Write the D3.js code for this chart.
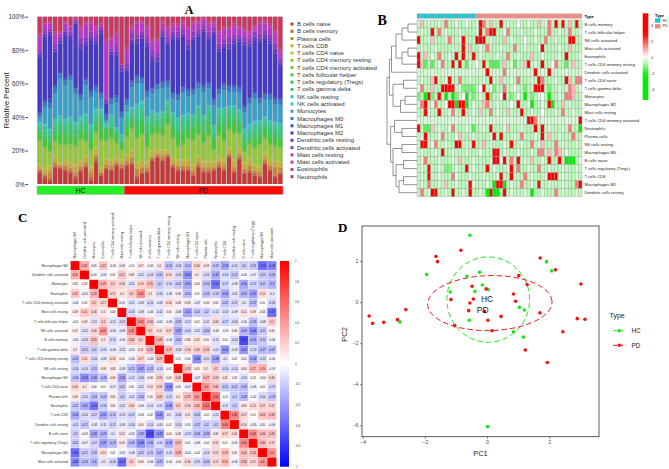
<!DOCTYPE html>
<html>
<head>
<meta charset="utf-8">
<script src="https://cdn.jsdelivr.net/npm/d3@7"></script>
<style>
  body { margin: 0; background: #fff; }
  svg { display: block; font-family: "Liberation Sans", Arial, sans-serif; }
  .letter { font-family: "Liberation Serif", "Times New Roman", serif; font-weight: bold; }
</style>
</head>
<body>
<svg id="fig" width="669" height="469"></svg>
<script>
// ---------- data ----------
const cellTypes = ["B cells naive", "B cells memory", "Plasma cells", "T cells CD8", "T cells CD4 naive",
  "T cells CD4 memory resting", "T cells CD4 memory activated", "T cells follicular helper",
  "T cells regulatory (Tregs)", "T cells gamma delta", "NK cells resting", "NK cells activated",
  "Monocytes", "Macrophages M0", "Macrophages M1", "Macrophages M2", "Dendritic cells resting",
  "Dendritic cells activated", "Mast cells resting", "Mast cells activated", "Eosinophils", "Neutrophils"];
const groupNames = ["HC", "PD"];
const groupSizes = [17, 31];
const percentTicks = [0, 0.2, 0.4, 0.6, 0.8, 1];

// panel A: one row per sample, values in cellTypes order (percent)
const fractionRows = [
  [7,1,1,2,1,13,1,4,2,2,2,1,3,2,1,33,2,2,8,1,1,10],
  [3,2,1,3,1,12,0,5,2,3,3,1,10,3,1,38,2,2,3,1,0,4],
  [2,1,4,3,1,8,1,4,2,3,3,1,12,4,2,38,2,2,3,1,0,3],
  [10,1,2,3,1,8,1,4,2,3,3,1,15,4,1,20,2,3,5,1,1,9],
  [9,1,1,1,1,10,1,5,2,5,4,1,22,3,1,17,2,2,2,1,0,9],
  [8,1,2,3,1,8,1,4,2,4,4,1,20,3,1,26,2,2,3,1,0,3],
  [7,1,2,3,1,10,1,5,2,4,4,1,22,3,1,22,2,2,3,1,0,5],
  [3,2,2,4,1,10,1,4,2,4,3,1,17,3,1,38,1,1,1,0,0,1],
  [8,1,2,3,1,12,1,4,2,3,3,2,10,3,1,28,3,4,5,1,1,6],
  [10,1,2,3,1,8,1,4,2,5,4,1,17,3,1,20,2,3,7,1,1,3],
  [2,2,3,3,1,9,1,4,2,4,3,2,16,3,1,30,2,3,5,1,1,2],
  [13,2,2,4,1,8,1,4,2,4,3,1,10,3,1,25,2,3,4,1,1,5],
  [5,1,1,2,1,16,1,6,2,6,3,1,6,3,1,35,2,2,2,0,0,4],
  [9,1,2,3,1,10,1,4,2,2,1,1,2,3,1,6,1,2,34,1,1,14],
  [8,1,2,3,1,12,1,4,2,4,3,1,6,3,1,26,2,2,5,1,1,12],
  [11,1,1,2,1,8,1,3,2,2,1,1,15,3,1,24,2,4,6,1,1,9],
  [9,1,2,2,1,5,1,2,1,2,3,1,10,3,1,24,2,2,0,0,0,29],
  [11,1,2,3,1,10,1,4,2,4,3,2,4,3,1,17,2,3,7,1,2,18],
  [12,1,3,4,1,12,1,4,2,3,3,1,12,3,1,23,2,4,3,1,1,5],
  [3,2,4,3,1,14,1,5,2,5,5,3,12,4,1,19,3,3,6,1,0,3],
  [6,1,3,4,1,14,1,6,3,5,4,2,10,3,1,23,2,2,5,1,1,2],
  [7,1,2,3,1,8,1,6,2,5,4,1,12,3,1,27,2,3,6,1,1,5],
  [14,1,1,3,1,9,1,4,2,4,3,1,10,3,1,16,3,3,5,1,1,13],
  [16,1,1,2,1,9,1,3,2,3,3,1,14,3,1,13,3,2,7,1,1,13],
  [14,1,2,3,1,8,1,4,2,4,3,1,14,3,1,27,2,2,3,1,1,3],
  [16,1,1,2,1,14,1,4,2,4,3,1,8,3,1,21,2,3,4,1,1,6],
  [10,1,1,3,1,11,1,5,2,4,3,1,8,3,1,32,2,2,3,1,1,4],
  [8,1,2,3,1,7,1,5,3,4,4,1,10,3,1,32,2,3,3,1,1,4],
  [8,1,2,3,1,8,1,5,2,5,4,1,13,3,1,29,2,3,3,1,1,2],
  [8,1,2,3,1,12,1,5,2,4,3,1,10,3,1,24,3,3,6,1,1,6],
  [5,1,2,3,1,14,1,5,2,4,3,1,12,3,1,29,2,3,4,1,1,3],
  [10,1,2,3,1,12,1,5,2,6,3,1,10,3,1,27,2,2,4,1,1,2],
  [7,1,2,3,1,10,1,5,2,5,3,1,14,3,1,32,2,2,3,1,0,1],
  [7,1,2,3,1,14,1,6,3,5,3,1,10,3,1,25,2,3,4,1,1,3],
  [8,1,1,3,1,6,1,4,2,3,4,1,12,3,1,38,2,3,2,1,0,3],
  [10,1,2,3,1,12,1,5,2,5,3,1,8,3,1,22,2,3,6,1,1,8],
  [8,1,2,3,1,10,1,6,3,6,4,1,10,3,1,22,2,3,5,1,1,6],
  [16,1,1,3,1,10,1,4,2,4,3,1,8,3,1,22,3,4,4,1,1,6],
  [7,1,2,4,1,15,1,5,3,4,3,1,8,3,1,25,2,3,5,1,1,4],
  [15,1,2,3,1,8,1,4,2,4,3,1,10,3,1,27,2,2,4,1,1,5],
  [6,1,2,3,1,6,1,3,2,3,3,2,10,3,1,36,2,3,3,1,1,7],
  [7,1,3,4,1,7,1,2,2,2,4,2,12,3,1,30,2,3,3,1,1,8],
  [5,1,2,3,1,9,1,4,2,4,4,2,13,3,1,31,2,3,2,1,1,5],
  [4,1,2,3,1,12,1,4,2,4,3,1,10,3,1,33,2,3,5,1,1,3],
  [12,1,2,3,1,8,1,4,2,3,3,1,10,3,1,33,2,3,4,1,1,2],
  [8,1,2,3,1,8,1,4,2,4,3,1,12,3,1,30,2,3,5,1,1,4],
  [4,1,5,3,1,8,1,4,2,4,3,1,10,3,1,26,3,3,6,1,1,8],
  [6,1,3,3,1,8,1,4,2,4,3,1,11,3,1,20,2,3,3,1,1,20]
];

// panel B: row-scaled heatmap
const heatRowNames = ["B cells memory", "T cells follicular helper", "NK cells activated", "Mast cells activated",
  "Eosinophils", "T cells CD4 memory resting", "Dendritic cells activated", "T cells CD4 naive",
  "T cells gamma delta", "Monocytes", "Macrophages M2", "Mast cells resting", "T cells CD4 memory activated",
  "Neutrophils", "Plasma cells", "NK cells resting", "Macrophages M0", "B cells naive",
  "T cells regulatory (Tregs)", "T cells CD8", "Macrophages M1", "Dendritic cells resting"];
const heatValues = [
  [-0.6,0.8,-0.6,-0.3,-0.6,-0.6,-0.3,-0.6, 1.6,-0.6,-0.6,-0.3,-0.6,-0.6,0,-0.6, -0.6,-0.3,3.5,1.6,-0.6,0.8,-0.6,-0.6, 3.5,-0.6,-0.3,-0.6,-0.6,0,-0.6,-0.6, -0.3,-0.6,-0.6,0.8,-0.6,-0.3,1.6,-0.6, 3.5,-0.6,3.5,-0.6,0.8,-0.6,3.5,-0.6],
  [-0.6,-0.3,-0.6,-0.6,3.5,-0.6,1.6,-0.6, -0.3,-0.6,-0.6,-0.6,-0.3,-0.6,-0.6,-0.6, -0.6,-0.3,3.5,-0.6,1.6,3.5,3.5,-0.6, -0.6,-0.3,1.6,-0.6,-0.6,-0.6,-0.3,-0.6, -0.6,-0.6,-0.3,-0.6,-0.6,-0.6,1.6,-0.6, -0.6,-0.3,-0.6,-0.6,1.6,-0.6,-0.6,-0.3],
  [3.5,-0.6,-0.6,-0.3,0.8,-0.6,-0.6,-0.6, -0.3,1.6,-0.6,-0.6,-0.3,3.5,-0.6,-0.6, -0.6,3.5,3.5,3.5,-0.6,-0.3,-0.6,-0.6, -0.6,0.8,-0.6,-0.3,-0.6,-0.6,-0.6,0, -0.6,-0.6,-0.3,-0.6,-0.6,1.6,-0.6,-0.6, -0.3,-0.6,-0.6,-0.6,3.5,3.5,-0.6,-0.6],
  [-0.6,-0.3,-0.6,-0.6,-0.6,-0.3,-0.6,-0.6, -0.6,-0.6,-0.3,-0.6,-0.6,3.5,-0.6,0.8, -0.6,-0.6,-0.3,-0.6,1.6,-0.6,-0.6,-0.6, -0.3,-0.6,-0.6,-0.6,1.6,-0.6,-0.6,-0.3, -0.6,-0.6,-0.6,-0.3,3.5,-0.6,-0.6,-0.6, -0.6,-0.3,-0.6,-0.6,0.8,-0.6,-0.6,-0.6],
  [3.5,-0.6,0.8,-0.6,-0.3,-0.6,1.6,-0.6, -0.6,-0.3,-0.6,3.5,-0.6,3.5,-0.6,-0.6, 3.5,-0.6,-0.3,-0.6,-0.6,-0.6,-0.6,-0.3, -0.6,-0.6,1.6,-0.6,-0.6,-0.3,-0.6,-0.6, -0.6,0.8,-0.6,-0.6,-0.3,-0.6,-0.6,-0.6, -0.6,-0.3,-0.6,3.5,-0.6,-0.6,-0.6,-0.3],
  [3.5,0.8,-1.5,-0.6,-1.5,-0.6,-0.3,1.6, -0.6,-0.6,3.5,-0.6,3.5,-0.6,-1.5,-0.3, -0.6,0,-0.6,3.5,-0.6,-1.5,-1.5,-1.5, -0.6,0.8,-0.6,-0.3,-1.5,-0.6,-0.6,0.8, 3.5,-0.6,-0.3,-0.6,3.5,-0.6,-0.6,0, 1.6,-0.6,-0.6,-1.5,-0.6,0.8,-0.6,-0.6],
  [-0.4,-0.4,-0.4,-0.3,-0.4,-0.4,-0.4,-0.4, -0.4,-0.3,-0.4,-0.4,-0.4,-0.4,-0.4,-0.3, -0.4,-0.4,-0.4,-0.4,3.5,-0.4,-0.4,-0.4, -0.4,1.6,-0.4,-0.4,-0.3,-0.4,-0.4,-0.4, -0.4,-0.4,3.5,-0.4,-0.4,-0.4,3.5,-0.4, -0.4,-0.4,-0.3,-0.4,-0.4,-0.4,-0.4,-0.4],
  [-0.6,-0.3,-0.6,-0.6,0.8,3.5,-0.6,-0.6, -0.3,3.5,-0.6,-0.6,1.6,-0.6,-0.6,-0.3, -0.6,-0.6,-0.6,-0.3,-0.6,3.5,-0.6,-0.6, 0.8,-0.6,-0.6,-0.3,-0.6,1.6,-0.6,-0.6, -0.6,-0.3,-0.6,3.5,1.6,-0.6,-0.6,-0.6, -0.3,-0.6,-0.6,3.5,0.8,-0.6,1.6,1.6],
  [-0.3,1.6,-0.6,-0.6,0.8,-0.6,-0.6,3.5, 3.5,3.5,3.5,-0.6,-0.3,-1.2,-1.2,-1.2, -1.2,-0.6,0,3.5,-0.6,-0.3,-1.2,-0.6, -0.6,1.6,-0.6,-0.6,0,-0.6,-0.6,-1.2, -0.6,-0.6,3.5,3.5,3.5,-0.6,-1.2,-0.6, -0.6,-0.3,-0.6,-0.6,1.6,0.8,-0.6,-0.3],
  [-1.2,-0.6,-2.5,3.5,-1.2,-0.6,3.5,-0.6, -2.5,-0.6,-2.5,-1.2,-0.6,0,-2.5,-0.6, -1.2,-0.6,-0.3,-0.6,3.5,-1.2,-0.6,-0.6, 0,3.5,-0.6,-1.2,-0.6,-0.3,-0.6,-2.5, -0.6,-1.2,-0.6,-0.3,0,-0.6,-2.5,-0.6, -0.6,-0.3,-0.6,1.6,1.6,0.8,-0.6,-0.6],
  [-0.6,1.6,3.5,-0.6,-0.3,1.6,-0.6,-0.6, 0,3.5,3.5,-2.5,3.5,3.5,-2.5,-0.6, -0.3,-0.6,-0.6,0.8,1.6,-0.6,-0.6,-0.3, -0.6,-0.6,-0.6,0,-0.6,3.5,-0.6,-0.6, -0.3,-2.5,-0.6,-0.6,-0.3,-0.6,3.5,-2.5, -0.6,-0.6,0.8,-0.6,-0.3,-0.6,-0.6,-0.6],
  [-0.6,-0.6,3.5,-0.3,-0.6,-0.6,3.5,-0.6, -0.6,-0.3,1.6,-0.6,-0.6,3.5,-0.6,-0.6, -0.3,-0.6,0.8,-0.6,-0.6,1.6,-0.6,-0.3, -0.6,-0.6,0.8,-0.6,-0.6,-0.6,3.5,-0.6, -0.6,-0.3,-0.6,-0.6,0,-0.6,-0.6,-0.6, -0.3,-0.6,1.6,-0.6,-0.6,-0.3,-0.6,-0.6],
  [-0.35,-0.35,-0.35,-0.35,-0.35,-0.35,-0.35,-0.35, -0.35,-0.35,-0.25,-0.35,-0.35,-0.35,-0.35,-0.35, -0.35,-0.35,-0.35,-0.35,-0.35,-0.35,-0.35,-0.35, -0.35,-0.35,-0.35,-0.35,-0.35,-0.35,-0.35,-0.35, 3.5,3.5,1.6,-0.35,-0.35,-0.35,-0.35,-0.35, -0.35,-0.35,-0.35,-0.35,-0.35,-0.35,-0.35,3.5],
  [3.5,-0.6,-1.5,-1.5,0.8,-0.6,-0.3,-0.6, -0.6,-0.3,1.6,-0.6,-0.6,-0.6,-0.3,-0.6, -1.5,-0.6,-0.6,-0.3,-0.6,3.5,-0.6,-0.6, -0.6,-0.3,0.8,-0.6,-0.6,-0.6,-0.3,-0.6, -0.6,-0.6,3.5,-0.6,3.5,-0.6,-0.3,-0.6, -0.6,-0.6,-0.3,-0.6,1.6,-0.6,-0.6,-2.5],
  [-0.6,-0.3,3.5,-0.6,-0.6,-0.6,-0.3,1.6, -0.6,-0.6,-0.6,-0.3,0.8,-0.6,-0.6,-0.6, -0.3,-0.6,-0.6,-0.6,-0.6,-0.3,3.5,-0.6, 3.5,-0.6,-0.6,-0.6,-0.3,-0.6,1.6,-0.6, -0.6,-0.6,-0.3,-0.6,3.5,-0.6,0.8,-0.6, -0.6,-0.3,-0.6,-0.6,-0.6,1.6,-0.6,-0.6],
  [-0.6,3.5,3.5,-0.6,-0.3,1.6,-0.6,-0.6, -0.3,-0.6,-0.6,3.5,3.5,-0.6,-0.3,-0.6, 3.5,-0.6,-0.6,0.8,-0.6,-0.3,-0.6,-0.6, -0.6,-0.3,-0.6,3.5,-0.6,-0.6,-0.3,-0.6, -0.6,1.6,-0.6,-0.3,0.8,-0.6,-0.6,-0.6, 1.6,-0.6,-0.3,-0.6,-0.6,-0.6,-0.3,-0.6],
  [-0.6,-0.3,-0.6,-0.6,-0.6,-0.3,-0.6,3.5, -0.6,-0.6,-0.3,-0.6,-0.6,-0.6,-0.3,-0.6, -0.6,-0.6,-0.3,-0.6,-0.6,-0.6,3.5,3.5, -0.6,-0.3,-0.6,-0.6,-0.6,-0.3,-0.6,-0.6, -0.6,-0.3,-0.6,1.6,1.6,-0.6,0.8,-0.6, 1.6,0.8,-0.6,-0.3,-0.6,-0.6,-0.6,-0.6],
  [-0.6,-0.3,1.6,-0.6,-0.6,-0.6,-0.3,-0.6, -0.6,-0.6,-0.3,-0.6,0.8,-0.6,-0.6,-0.6, -0.3,-0.6,-0.6,-0.6,-0.6,-0.3,3.5,3.5, 0,3.5,-0.6,1.6,-0.6,3.5,-0.6,-0.3, -0.6,0.8,-0.6,-0.6,-0.3,-0.6,3.5,-0.6, -0.6,3.5,-0.6,-2.5,-2.5,-2.5,-0.6,-0.3],
  [-0.6,-0.3,-0.6,3.5,-0.6,-0.6,-0.3,-0.6, -1.2,-1.2,-0.6,-0.3,-0.6,-0.6,3.5,-0.6, -0.3,-0.6,-0.6,-0.6,3.5,-0.6,-0.3,-0.6, -0.6,-0.6,-0.3,3.5,-0.6,1.6,-0.6,-0.6, -0.3,-0.6,-0.6,1.6,-0.6,-0.6,-0.3,-0.6, -0.6,-0.6,-0.3,-0.6,-0.6,-0.6,-0.3,-0.6],
  [-0.6,-0.3,-0.6,3.5,-0.6,-0.6,-0.3,-0.6, -0.6,-0.6,1.6,-0.3,-0.6,-0.6,-0.6,-0.3, -0.6,-0.6,-0.6,-0.3,-0.6,-0.6,-0.6,-0.3, 3.5,-0.6,-0.6,3.5,-0.3,-0.6,-0.6,1.6, -0.6,-0.3,-0.6,-0.6,-0.6,-0.3,3.5,3.5, 3.5,-0.6,-0.3,-0.6,-0.6,-0.6,-0.3,-0.6],
  [-0.6,-0.3,-0.6,1.6,-0.6,-0.6,-0.3,-0.6, 0.8,-0.6,-0.6,-0.3,-0.6,-0.6,-0.6,3.5, -0.3,-0.6,-0.6,-0.6,-0.3,-0.6,-2.5,3.5, 3.5,-2.5,-0.6,-0.3,-0.6,-0.6,1.6,-0.6, -0.6,-0.3,-0.6,3.5,-0.6,-0.6,-0.3,-0.6, -0.6,-0.6,-0.3,-0.6,-0.6,-0.6,1.6,3.5],
  [-0.6,1.6,-0.6,-0.3,3.5,3.5,-0.6,-0.6, -0.3,-0.6,3.5,-0.6,-0.6,-0.3,-0.6,3.5, -0.6,-0.6,-0.3,-0.6,-2.5,3.5,-2.5,-2.5, -0.6,3.5,-0.6,-0.3,-0.6,-0.6,-0.6,-0.3, -0.6,-2.5,-0.6,-0.6,-0.3,-0.6,-0.6,-0.6, 1.6,-0.6,-0.3,-0.6,-0.6,-0.6,-0.3,-0.6]
];
// row dendrogram: [height, left, right], leaves are row indices
const heatTree = [1.0,
  [0.92,
    [0.85, [0.7, [0.5, [0.3, 0, 1], 2], [0.5, [0.3, 3, 4], 5]], 6],
    [0.8, [0.45, 7, 8], [0.55, [0.4, 9, 10], 11]]],
  [0.88,
    [0.75, 12, [0.5, 13, 14]],
    [0.8, [0.5, 15, 16], [0.7, [0.45, 17, 18], [0.6, [0.45, 19, 20], 21]]]]];
const heatTicks = [4, 2, 0, -2, -4];

// panel C: correlation matrix, lower triangle by row
const corrNames = ["Macrophages M2", "Dendritic cells activated", "Monocytes", "Eosinophils",
  "T cells CD4 memory activated", "Mast cells resting", "T cells follicular helper", "NK cells activated",
  "B cells memory", "T cells gamma delta", "T cells CD4 memory resting", "NK cells resting", "Macrophages M1",
  "T cells CD4 naive", "Plasma cells", "Neutrophils", "T cells CD8", "Dendritic cells resting", "B cells naive",
  "T cells regulatory (Tregs)", "Macrophages M0", "Mast cells activated"];
const corrLower = [
  [],
  [0.32],
  [0.05, 0.03],
  [0.22, -0.05, 0.29],
  [-0.04, 0.02, 0.2, 0.17],
  [0.08, 0.21, 0.16, 0.1, 0.03],
  [-0.01, 0.09, -0.11, 0.2, -0.11, -0.15],
  [0.07, -0.12, 0.16, 0.42, -0.09, -0.09, 0.42],
  [-0.05, -0.14, 0.25, 0.1, -0.15, -0.06, 0.24, 0.2],
  [0.10, -0.21, -0.2, -0.13, -0.09, -0.12, -0.05, 0.11, 0.29],
  [-0.25, 0.15, -0.14, -0.08, 0.14, 0.05, -0.06, 0.17, -0.06, 0.27],
  [-0.16, -0.14, -0.21, 0.08, 0.08, -0.08, -0.23, -0.37, -0.25, -0.13, 0.01],
  [-0.24, -0.43, -0.35, -0.26, 0.09, -0.35, -0.12, -0.16, 0.08, 0.19, 0.04, 0.23],
  [0.16, 0.1, 0.04, 0.01, -0.07, -0.21, 0.02, -0.12, 0.12, 0.19, -0.44, 0.05, -0.07],
  [0.09, -0.15, -0.24, -0.23, 0.06, -0.2, -0.11, -0.24, 0.05, 0.23, -0.15, 0.1, 0.27, 0.4],
  [-0.22, -0.32, -0.54, -0.18, 0.05, -0.12, 0.16, -0.06, -0.12, -0.11, -0.36, 0.2, 0.19, 0.26, 0.54],
  [-0.34, -0.14, -0.17, -0.35, -0.22, -0.13, -0.17, -0.03, 0.02, -0.41, -0.1, -0.16, 0.11, -0.21, -0.01, -0.11],
  [-0.15, -0.21, -0.08, -0.11, -0.17, -0.09, -0.14, 0.06, -0.14, -0.09, 0.02, -0.14, 0.03, -0.22, -0.2, -0.2, 0.48],
  [-0.2, -0.03, -0.35, -0.29, -0.1, 0.12, -0.05, -0.29, -0.71, -0.42, 0.04, 0.08, -0.13, -0.26, -0.28, 0.09, 0.17, 0.14],
  [-0.21, -0.07, -0.17, -0.37, -0.27, 0.09, -0.26, -0.44, -0.31, -0.13, -0.33, 0.27, 0.02, -0.06, -0.02, 0.15, 0.01, -0.05, 0.46],
  [-0.56, -0.21, -0.22, 0.13, 0.01, -0.05, -0.08, -0.21, -0.21, -0.27, -0.13, 0.29, -0.04, -0.01, -0.14, 0.17, 0.23, 0.05, 0.26, 0.26],
  [-0.48, -0.26, -0.3, -0.1, -0.16, -0.57, 0.20, 0.06, -0.06, -0.27, -0.04, -0.03, 0.16, -0.15, -0.23, 0.17, 0.26, -0.06, 0.26, 0.17, 0.4]
];
const corrTicks = [1, 0.8, 0.6, 0.4, 0.2, 0, -0.2, -0.4, -0.6, -0.8, -1];

// panel D: PCA scores
const hcPC1 = [-0.55, -1.94, -0.65, -0.24, -0.15, 0.04, -0.39, -1.18, -0.57, -2.80, 1.04, 1.20, 0.85, 1.17, 1.91, 2.08, 0.02];
const hcPC2 = [3.27, 1.35, 1.27, 1.46, 0.84, 0.62, 0.53, 0.50, -0.88, -0.96, -0.25, -0.38, -1.44, -1.70, 1.98, 1.53, -6.07];
const pdPC1 = [-0.84, -1.64, -1.59, -0.48, -0.03, -1.16, -0.44, -0.55, -0.59, -0.09, 0.03, 0.45, 0.85, 0.92, 1.02, 1.29,
  1.70, 1.71, 2.20, 3.02, 2.90, 3.15, 2.44, 1.94, 1.23, 0.16, -1.04, -2.61, -2.88, -3.32, -3.68, -3.79];
const pdPC2 = [2.54, 2.23, 1.98, 0.78, 0.65, 0.13, 0.16, -0.04, -0.41, -0.44, -0.88, -0.69, 0.40, 0.05, 1.30, 0.86,
  -0.52, 2.16, 1.58, 0.89, -0.80, -0.83, -1.44, -2.94, -2.33, -1.39, -1.14, -0.36, -0.85, -0.98, -1.03, -0.67];
// ellipse centre, half-axes (PC units), tilt (radians)
const ellipseHC = [0.04, 0.13, 1.33, 2.08, 0];
const ellipsePD = [0.09, -0.04, 2.0, 1.34, 0.05];
const labelHC = [0.0, 0.16];
const labelPD = [-0.14, -0.39];
const pc1Ticks = [-4, -2, 0, 2];
const pc2Ticks = [-6, -4, -2, 0, 2];

// ---------- drawing ----------
const svg = d3.select('#fig');
const defs = svg.append('defs');
const groupColorsA = { HC: '#22f022', PD: '#ff0a0a' };
const groupColorsB = { HC: '#1cc4cc', PD: '#f4877f' };
const cellColors = cellTypes.map((d, i) => d3.hsl(i * 360 / cellTypes.length, 0.55, 0.5).formatHex());
const sampleGroup = groupNames.flatMap((g, i) => d3.range(groupSizes[i]).map(() => g));

function panelA() {
  const left = 37, right = 283, top = 16.7, bottom = 184;
  const x = d3.scaleBand().domain(d3.range(fractionRows.length)).range([left, right])
    .paddingInner(0.18).paddingOuter(0.12);
  const y = d3.scaleLinear().domain([0, 1]).range([bottom, top]);
  const g = svg.append('g');

  g.append('rect').attr('x', left).attr('y', top).attr('width', right - left).attr('height', bottom - top)
    .attr('fill', '#bdbdbd');

  const series = d3.stack().keys(d3.range(cellTypes.length)).offset(d3.stackOffsetExpand)(fractionRows);
  g.selectAll('.layer').data(series).enter().append('g')
    .attr('fill', d => cellColors[d.key])
    .selectAll('rect').data(d => d).enter().append('rect')
    .attr('x', (d, i) => x(i))
    .attr('y', d => y(d[1]))
    .attr('width', x.bandwidth())
    .attr('height', d => Math.max(0, y(d[0]) - y(d[1])));

  const axis = g.append('g').attr('transform', 'translate(28,0)')
    .call(d3.axisLeft(y).tickValues(percentTicks).tickFormat(d3.format('.0%')).tickSize(2.5).tickPadding(1));
  axis.select('.domain').remove();
  axis.selectAll('line').attr('stroke', '#444');
  axis.selectAll('text').attr('font-size', '6.3px').attr('fill', '#333').attr('font-family', 'Liberation Sans, Arial');

  g.append('text').attr('transform', `translate(8.5,${(top + bottom) / 2}) rotate(-90)`)
    .attr('text-anchor', 'middle').attr('font-size', '7.6px').attr('fill', '#222').text('Relative Percent');

  // group strip
  const split = (x(groupSizes[0] - 1) + x.bandwidth() + x(groupSizes[0])) / 2;
  const strip = [[groupNames[0], left, split], [groupNames[1], split, right]];
  strip.forEach(([name, x0, x1]) => {
    g.append('rect').attr('x', x0).attr('y', 186).attr('width', x1 - x0).attr('height', 8.5)
      .attr('fill', groupColorsA[name]).attr('stroke', '#aaa').attr('stroke-width', 0.5);
    g.append('text').attr('x', (x0 + x1) / 2).attr('y', 190.6).attr('text-anchor', 'middle')
      .attr('dominant-baseline', 'central').attr('font-size', '7px').attr('fill', '#111').text(name);
  });

  // legend
  const lg = g.append('g').attr('transform', 'translate(290.5,24)');
  cellTypes.forEach((name, i) => {
    lg.append('rect').attr('x', 0).attr('y', i * 7.27 - 1.5).attr('width', 3).attr('height', 3)
      .attr('fill', cellColors[i]);
    lg.append('text').attr('x', 6.5).attr('y', i * 7.27).attr('dominant-baseline', 'central')
      .attr('font-size', '6px').attr('fill', '#333').text(name);
  });

  svg.append('text').attr('class', 'letter').attr('x', 189).attr('y', 13.8).attr('text-anchor', 'middle')
    .attr('font-size', '12px').text('A');
}

function panelB() {
  const left = 417, right = 582, top = 20, bottom = 196.7;
  const nCols = heatValues[0].length;
  const x = d3.scaleBand().domain(d3.range(nCols)).range([left, right]);
  const y = d3.scaleBand().domain(d3.range(heatRowNames.length)).range([top, bottom]);
  const color = d3.scaleLinear().domain([-2.2, 0, 3]).range(['#00f000', '#ffffff', '#ff0000']).clamp(true);
  const g = svg.append('g');

  // annotation strip
  g.selectAll('.ann').data(sampleGroup).enter().append('rect')
    .attr('x', (d, i) => x(i)).attr('y', 13.8).attr('width', x.bandwidth()).attr('height', 4.5)
    .attr('fill', d => groupColorsB[d]).attr('stroke', '#b0b0b0').attr('stroke-width', 0.3);
  g.append('text').attr('x', 584.5).attr('y', 16).attr('dominant-baseline', 'central')
    .attr('font-size', '4.1px').attr('font-weight', 'bold').text('Type');

  heatValues.forEach((row, r) => {
    g.selectAll(`.hr${r}`).data(row).enter().append('rect')
      .attr('x', (d, i) => x(i)).attr('y', y(r)).attr('width', x.bandwidth()).attr('height', y.bandwidth())
      .attr('fill', d => color(d)).attr('stroke', '#a0a0a0').attr('stroke-width', 0.4);
  });

  g.selectAll('.hlab').data(heatRowNames).enter().append('text')
    .attr('x', 584.5).attr('y', (d, i) => y(i) + y.bandwidth() / 2).attr('dominant-baseline', 'central')
    .attr('font-size', '4.1px').attr('fill', '#222').text(d => d);

  // dendrogram
  const xd = d3.scaleLinear().domain([0, 1]).range([left, 387]);
  const dg = g.append('g').attr('stroke', '#666').attr('stroke-width', 0.7).attr('fill', 'none');
  function walk(node) {
    if (typeof node === 'number') return { x: left, y: y(node) + y.bandwidth() / 2 };
    const a = walk(node[1]), b = walk(node[2]);
    const xn = xd(node[0]);
    dg.append('path').attr('d', `M${a.x},${a.y}H${xn}V${b.y}H${b.x}`);
    return { x: xn, y: (a.y + b.y) / 2 };
  }
  walk(heatTree);

  // colour bar
  const cb = d3.scaleLinear().domain([5.5, -5.3]).range([13.3, 100]);
  const grad = defs.append('linearGradient').attr('id', 'gradB')
    .attr('x1', 0).attr('x2', 0).attr('y1', 0).attr('y2', 1);
  d3.range(0, 1.0001, 0.05).forEach(t => {
    grad.append('stop').attr('offset', t).attr('stop-color', color(cb.invert(13.3 + t * 86.7)));
  });
  g.append('rect').attr('x', 642.7).attr('y', 13.3).attr('width', 5.6).attr('height', 86.7).attr('fill', 'url(#gradB)');
  heatTicks.forEach(v => {
    g.append('text').attr('x', 651).attr('y', cb(v)).attr('dominant-baseline', 'central')
      .attr('font-size', '4px').attr('fill', '#333').text(v);
  });

  // legend
  g.append('text').attr('x', 655).attr('y', 15.3).attr('dominant-baseline', 'central')
    .attr('font-size', '4px').attr('font-weight', 'bold').text('Type');
  groupNames.forEach((name, i) => {
    g.append('rect').attr('x', 655).attr('y', 18.3 + i * 5.8).attr('width', 5.4).attr('height', 4.4)
      .attr('fill', groupColorsB[name]);
    g.append('text').attr('x', 662.5).attr('y', 20.5 + i * 5.8).attr('dominant-baseline', 'central')
      .attr('font-size', '3.8px').attr('fill', '#333').text(name);
  });

  svg.append('text').attr('class', 'letter').attr('x', 377.5).attr('y', 25).attr('font-size', '14px').text('B');
}

function panelC() {
  const n = corrNames.length;
  const matrix = d3.range(n).map(i => d3.range(n).map(j => i === j ? 1 : (i > j ? corrLower[i][j] : corrLower[j][i])));
  const x = d3.scaleBand().domain(d3.range(n)).range([70.5, 276.5]);
  const y = d3.scaleBand().domain(d3.range(n)).range([261, 466.7]);
  const color = d3.scaleLinear().domain([-1, 0, 1]).range(['#0000ff', '#ffffff', '#ff0000']);
  const g = svg.append('g');

  matrix.forEach((row, i) => {
    const rg = g.append('g');
    rg.selectAll('rect').data(row).enter().append('rect')
      .attr('x', (d, j) => x(j)).attr('y', y(i)).attr('width', x.bandwidth()).attr('height', y.bandwidth())
      .attr('fill', d => color(d)).attr('stroke', '#fff').attr('stroke-width', 0.2);
    rg.selectAll('text').data(row).enter().append('text')
      .attr('x', (d, j) => x(j) + x.bandwidth() / 2).attr('y', y(i) + y.bandwidth() / 2)
      .attr('text-anchor', 'middle').attr('dominant-baseline', 'central')
      .attr('font-size', '2.8px').attr('fill', '#111')
      .text(d => String(d));
  });

  g.selectAll('.rl').data(corrNames).enter().append('text')
    .attr('x', 68).attr('y', (d, i) => y(i) + y.bandwidth() / 2)
    .attr('text-anchor', 'end').attr('dominant-baseline', 'central')
    .attr('font-size', '3.45px').attr('fill', '#333').text(d => d);
  g.selectAll('.cl').data(corrNames).enter().append('text')
    .attr('transform', (d, i) => `translate(${x(i) + x.bandwidth() / 2},258.5) rotate(-90)`)
    .attr('dominant-baseline', 'central')
    .attr('font-size', '3.45px').attr('fill', '#333').text(d => d);

  // colour bar
  const cb = d3.scaleLinear().domain([1, -1]).range([261, 466.7]);
  const grad = defs.append('linearGradient').attr('id', 'gradC')
    .attr('x1', 0).attr('x2', 0).attr('y1', 0).attr('y2', 1);
  d3.range(0, 1.0001, 0.1).forEach(t => {
    grad.append('stop').attr('offset', t).attr('stop-color', color(1 - 2 * t));
  });
  g.append('rect').attr('x', 280).attr('y', 261).attr('width', 9).attr('height', 205.7).attr('fill', 'url(#gradC)');
  corrTicks.forEach(v => {
    g.append('text').attr('x', 295).attr('y', cb(v)).attr('dominant-baseline', 'central')
      .attr('font-size', '3px').attr('fill', '#333').text(v);
  });

  svg.append('text').attr('class', 'letter').attr('x', 18).attr('y', 222).attr('font-size', '13px').text('C');
}

function panelD() {
  const left = 362, right = 599, top = 226, bottom = 436.7;
  const x = d3.scaleLinear().domain([-4.02, 3.6]).range([left, right]);
  const y = d3.scaleLinear().domain([-6.56, 3.72]).range([bottom, top]);
  const col = { HC: '#1ee41e', PD: '#f01414' };
  const g = svg.append('g');

  const ax = g.append('g').attr('transform', `translate(0,${bottom})`)
    .call(d3.axisBottom(x).tickValues(pc1Ticks).tickSize(2).tickPadding(1.5));
  const ay = g.append('g').attr('transform', `translate(${left},0)`)
    .call(d3.axisLeft(y).tickValues(pc2Ticks).tickSize(2).tickPadding(1.5));
  [ax, ay].forEach(a => {
    a.select('.domain').remove();
    a.selectAll('line').attr('stroke', '#333').attr('stroke-width', 0.6);
    a.selectAll('text').attr('font-size', '5.3px').attr('fill', '#4d4d4d').attr('font-family', 'Liberation Sans, Arial');
  });
  g.append('rect').attr('x', left).attr('y', top).attr('width', right - left).attr('height', bottom - top)
    .attr('fill', 'none').attr('stroke', '#333').attr('stroke-width', 0.8);

  const ell = ([cx, cy, rx, ry, a]) => d3.line()(d3.range(0, 2 * Math.PI + 0.01, Math.PI / 60).map(t => [
    x(cx + rx * Math.cos(t) * Math.cos(a) - ry * Math.sin(t) * Math.sin(a)),
    y(cy + rx * Math.cos(t) * Math.sin(a) + ry * Math.sin(t) * Math.cos(a))]));
  [[ellipseHC, 'HC'], [ellipsePD, 'PD']].forEach(([e, name]) => {
    g.append('path').attr('d', ell(e)).attr('fill', 'none').attr('stroke', col[name])
      .attr('stroke-width', 1).attr('stroke-dasharray', '5.5,3');
  });

  const pts = [[hcPC1, hcPC2, 'HC'], [pdPC1, pdPC2, 'PD']];
  pts.forEach(([px, py, name]) => {
    g.selectAll(`.pt${name}`).data(px).enter().append('circle')
      .attr('cx', d => x(d)).attr('cy', (d, i) => y(py[i])).attr('r', 1.8).attr('fill', col[name]);
  });

  [[labelHC, 'HC'], [labelPD, 'PD']].forEach(([p, name]) => {
    g.append('text').attr('x', x(p[0])).attr('y', y(p[1])).attr('text-anchor', 'middle')
      .attr('dominant-baseline', 'central').attr('font-size', '8.5px').attr('fill', '#222').text(name);
  });

  g.append('text').attr('x', (left + right) / 2).attr('y', 455.5).attr('text-anchor', 'middle')
    .attr('font-size', '7.5px').attr('fill', '#222').text('PC1');
  g.append('text').attr('transform', `translate(346.5,${(top + bottom) / 2 + 3}) rotate(-90)`)
    .attr('text-anchor', 'middle').attr('font-size', '7.5px').attr('fill', '#222').text('PC2');

  // legend
  g.append('text').attr('x', 609.5).attr('y', 318).attr('font-size', '7px').attr('fill', '#222').text('Type');
  groupNames.forEach((name, i) => {
    const yy = 330.7 + i * 14.6;
    g.append('line').attr('x1', 613).attr('x2', 625.5).attr('y1', yy).attr('y2', yy)
      .attr('stroke', col[name]).attr('stroke-width', 1).attr('stroke-dasharray', '4,2');
    g.append('circle').attr('cx', 619.3).attr('cy', yy).attr('r', 1.8).attr('fill', col[name]);
    g.append('text').attr('x', 631.5).attr('y', yy).attr('dominant-baseline', 'central')
      .attr('font-size', '6.3px').attr('fill', '#222').text(name);
  });

  svg.append('text').attr('class', 'letter').attr('x', 338).attr('y', 232).attr('font-size', '13px').text('D');
}

panelA();
panelB();
panelC();
panelD();
</script>
</body>
</html>
